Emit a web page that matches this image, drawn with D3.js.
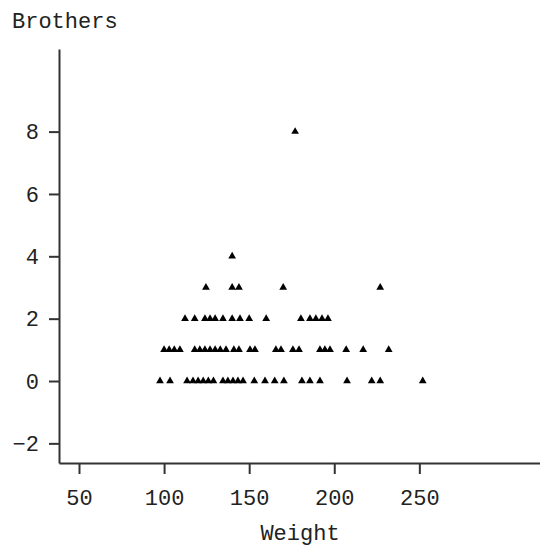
<!DOCTYPE html>
<html>
<head>
<meta charset="utf-8">
<script src="https://cdn.jsdelivr.net/npm/d3@7"></script>
<style>
  html, body { margin: 0; padding: 0; background: #fff; }
  svg { display: block; }
  text { font-family: "Liberation Mono", "Courier New", monospace; fill: #222; }
</style>
</head>
<body>
<svg id="chart" width="540" height="546"></svg>
<script>
// Data (Weight vs Brothers)
const weight0 = [97.6, 103.5, 113.5, 117, 120, 123, 126, 129, 134.6, 137.5, 140.5, 143.4, 146.4, 153, 159.3, 165, 170.4, 181, 185.7, 191.6, 207.5, 222, 227, 252];
const weight1 = [100, 103, 106, 109.3, 118, 121, 124, 127, 130, 133, 136.4, 141, 144, 150.5, 153.4, 165.7, 168.7, 175.7, 179.3, 191.6, 194.5, 197.5, 207, 217, 232];
const weight2 = [112.3, 118, 124, 127, 130, 134.6, 140, 144.6, 150, 160, 180.4, 185.7, 189.2, 192.8, 196.3];
const weight3 = [124.6, 140, 144, 170, 227];
const weight4 = [140];
const weight8 = [177];
const brothersLevels = [0, 1, 2, 3, 4, 8];
const weightGroups = [weight0, weight1, weight2, weight3, weight4, weight8];
const xTicks = [50, 100, 150, 200, 250];
const yTicks = [-2, 0, 2, 4, 6, 8];
const xLabel = "Weight";
const yLabel = "Brothers";

(function () {
const points = [];
weightGroups.forEach((g, i) => g.forEach(w => points.push({ w, b: brothersLevels[i] })));

const svg = d3.select("#chart");
const mLeft = 59, mRight = 540, mTop = 49, mBottom = 463;

const x = d3.scaleLinear().domain([38.25, 320.9]).range([mLeft, mRight]);
const y = d3.scaleLinear().domain([-2.63, 10.65]).range([mBottom, mTop]);

const xAxis = d3.axisBottom(x).tickValues(xTicks).tickSize(11).tickPadding(15).tickSizeOuter(0);
const yAxis = d3.axisLeft(y).tickValues(yTicks).tickSize(10).tickPadding(10).tickSizeOuter(0);

const gx = svg.append("g").attr("transform", `translate(0,${mBottom})`).call(xAxis);
const gy = svg.append("g").attr("transform", `translate(${mLeft},0)`).call(yAxis);

[gx, gy].forEach(g => {
  g.select(".domain").attr("stroke", "#333").attr("stroke-width", 2);
  g.selectAll(".tick line").attr("stroke", "#333").attr("stroke-width", 2);
  g.selectAll(".tick text")
    .style("font-family", '"Liberation Mono", "Courier New", monospace')
    .style("font-size", "22px")
    .attr("fill", "#222");
});

svg.append("text")
  .attr("x", 12).attr("y", 28)
  .style("font-size", "22px")
  .text(yLabel);

svg.append("text")
  .attr("x", 300).attr("y", 540)
  .attr("text-anchor", "middle")
  .style("font-size", "22px")
  .text(xLabel);

const sym = d3.symbol().type(d3.symbolTriangle).size(26);
svg.append("g").selectAll("path")
  .data(points)
  .join("path")
  .attr("d", sym)
  .attr("transform", d => `translate(${x(d.w)},${y(d.b)})`)
  .attr("fill", "#000");
})();
</script>
</body>
</html>
